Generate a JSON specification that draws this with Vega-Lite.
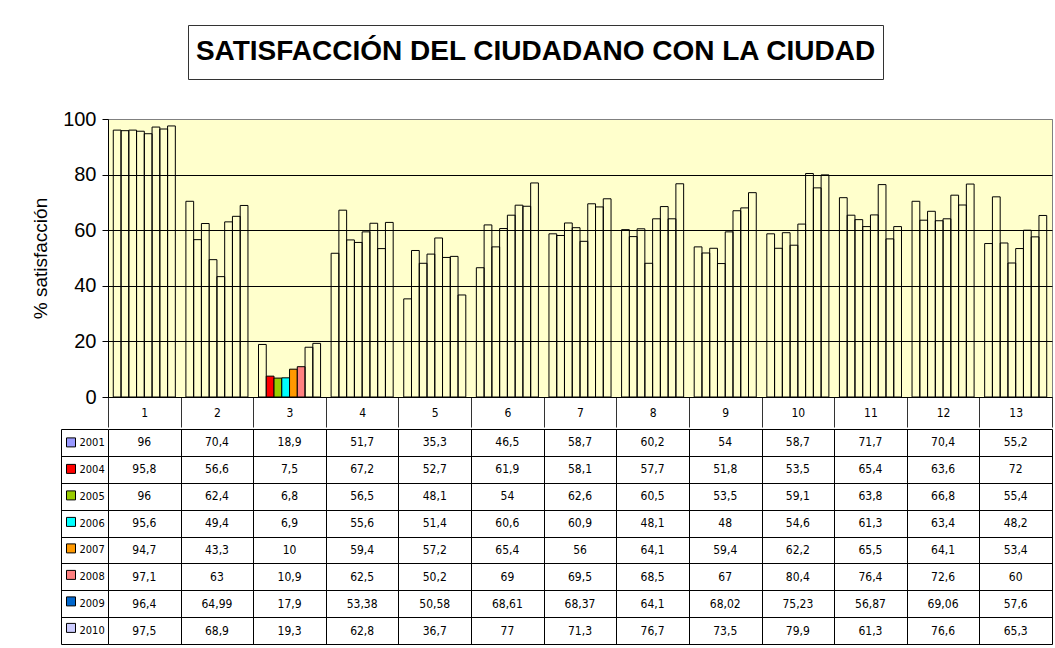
{
  "$schema": "https://vega.github.io/schema/vega-lite/v6.json",
  "padding": {"left": 31, "top": 24, "right": 0, "bottom": 4},
  "background": "#FFFFFF",
  "datasets": {
    "sat": [
      {"g": 1, "year": "2001", "v": 96}, {"g": 1, "year": "2004", "v": 95.8}, {"g": 1, "year": "2005", "v": 96}, {"g": 1, "year": "2006", "v": 95.6}, {"g": 1, "year": "2007", "v": 94.7}, {"g": 1, "year": "2008", "v": 97.1}, {"g": 1, "year": "2009", "v": 96.4}, {"g": 1, "year": "2010", "v": 97.5},
      {"g": 2, "year": "2001", "v": 70.4}, {"g": 2, "year": "2004", "v": 56.6}, {"g": 2, "year": "2005", "v": 62.4}, {"g": 2, "year": "2006", "v": 49.4}, {"g": 2, "year": "2007", "v": 43.3}, {"g": 2, "year": "2008", "v": 63}, {"g": 2, "year": "2009", "v": 64.99}, {"g": 2, "year": "2010", "v": 68.9},
      {"g": 3, "year": "2001", "v": 18.9}, {"g": 3, "year": "2004", "v": 7.5}, {"g": 3, "year": "2005", "v": 6.8}, {"g": 3, "year": "2006", "v": 6.9}, {"g": 3, "year": "2007", "v": 10}, {"g": 3, "year": "2008", "v": 10.9}, {"g": 3, "year": "2009", "v": 17.9}, {"g": 3, "year": "2010", "v": 19.3},
      {"g": 4, "year": "2001", "v": 51.7}, {"g": 4, "year": "2004", "v": 67.2}, {"g": 4, "year": "2005", "v": 56.5}, {"g": 4, "year": "2006", "v": 55.6}, {"g": 4, "year": "2007", "v": 59.4}, {"g": 4, "year": "2008", "v": 62.5}, {"g": 4, "year": "2009", "v": 53.38}, {"g": 4, "year": "2010", "v": 62.8},
      {"g": 5, "year": "2001", "v": 35.3}, {"g": 5, "year": "2004", "v": 52.7}, {"g": 5, "year": "2005", "v": 48.1}, {"g": 5, "year": "2006", "v": 51.4}, {"g": 5, "year": "2007", "v": 57.2}, {"g": 5, "year": "2008", "v": 50.2}, {"g": 5, "year": "2009", "v": 50.58}, {"g": 5, "year": "2010", "v": 36.7},
      {"g": 6, "year": "2001", "v": 46.5}, {"g": 6, "year": "2004", "v": 61.9}, {"g": 6, "year": "2005", "v": 54}, {"g": 6, "year": "2006", "v": 60.6}, {"g": 6, "year": "2007", "v": 65.4}, {"g": 6, "year": "2008", "v": 69}, {"g": 6, "year": "2009", "v": 68.61}, {"g": 6, "year": "2010", "v": 77},
      {"g": 7, "year": "2001", "v": 58.7}, {"g": 7, "year": "2004", "v": 58.1}, {"g": 7, "year": "2005", "v": 62.6}, {"g": 7, "year": "2006", "v": 60.9}, {"g": 7, "year": "2007", "v": 56}, {"g": 7, "year": "2008", "v": 69.5}, {"g": 7, "year": "2009", "v": 68.37}, {"g": 7, "year": "2010", "v": 71.3},
      {"g": 8, "year": "2001", "v": 60.2}, {"g": 8, "year": "2004", "v": 57.7}, {"g": 8, "year": "2005", "v": 60.5}, {"g": 8, "year": "2006", "v": 48.1}, {"g": 8, "year": "2007", "v": 64.1}, {"g": 8, "year": "2008", "v": 68.5}, {"g": 8, "year": "2009", "v": 64.1}, {"g": 8, "year": "2010", "v": 76.7},
      {"g": 9, "year": "2001", "v": 54}, {"g": 9, "year": "2004", "v": 51.8}, {"g": 9, "year": "2005", "v": 53.5}, {"g": 9, "year": "2006", "v": 48}, {"g": 9, "year": "2007", "v": 59.4}, {"g": 9, "year": "2008", "v": 67}, {"g": 9, "year": "2009", "v": 68.02}, {"g": 9, "year": "2010", "v": 73.5},
      {"g": 10, "year": "2001", "v": 58.7}, {"g": 10, "year": "2004", "v": 53.5}, {"g": 10, "year": "2005", "v": 59.1}, {"g": 10, "year": "2006", "v": 54.6}, {"g": 10, "year": "2007", "v": 62.2}, {"g": 10, "year": "2008", "v": 80.4}, {"g": 10, "year": "2009", "v": 75.23}, {"g": 10, "year": "2010", "v": 79.9},
      {"g": 11, "year": "2001", "v": 71.7}, {"g": 11, "year": "2004", "v": 65.4}, {"g": 11, "year": "2005", "v": 63.8}, {"g": 11, "year": "2006", "v": 61.3}, {"g": 11, "year": "2007", "v": 65.5}, {"g": 11, "year": "2008", "v": 76.4}, {"g": 11, "year": "2009", "v": 56.87}, {"g": 11, "year": "2010", "v": 61.3},
      {"g": 12, "year": "2001", "v": 70.4}, {"g": 12, "year": "2004", "v": 63.6}, {"g": 12, "year": "2005", "v": 66.8}, {"g": 12, "year": "2006", "v": 63.4}, {"g": 12, "year": "2007", "v": 64.1}, {"g": 12, "year": "2008", "v": 72.6}, {"g": 12, "year": "2009", "v": 69.06}, {"g": 12, "year": "2010", "v": 76.6},
      {"g": 13, "year": "2001", "v": 55.2}, {"g": 13, "year": "2004", "v": 72}, {"g": 13, "year": "2005", "v": 55.4}, {"g": 13, "year": "2006", "v": 48.2}, {"g": 13, "year": "2007", "v": 53.4}, {"g": 13, "year": "2008", "v": 60}, {"g": 13, "year": "2009", "v": 57.6}, {"g": 13, "year": "2010", "v": 65.3}
    ],
    "titulo": [{"t": "SATISFACCIÓN DEL CIUDADANO CON LA CIUDAD"}],
    "vacio": [{"t": ""}]
  },
  "vconcat": [
    {
      "hconcat": [
        {
          "width": 79, "height": 54,
          "data": {"name": "vacio"},
          "mark": {"type": "text"},
          "encoding": {"text": {"field": "t"}}
        },
        {
          "width": 695, "height": 54,
          "view": {"stroke": "#333333", "strokeWidth": 1},
          "data": {"name": "titulo"},
          "mark": {"type": "text", "font": "Liberation Sans", "fontWeight": "bold", "fontSize": 28, "color": "#000000"},
          "encoding": {"text": {"field": "t"}}
        }
      ],
      "spacing": 0
    },
    {
      "vconcat": [
        {
          "width": 944, "height": 278,
          "data": {"name": "sat"},
          "view": {"fill": "#FFFFCC", "stroke": "#808080"},
          "mark": {"type": "bar", "stroke": "#000000", "strokeWidth": 1},
          "encoding": {
            "x": {
              "field": "g", "type": "ordinal",
              "scale": {"paddingInner": 0, "paddingOuter": 0},
              "axis": {"title": null, "labelAngle": 0, "tickBand": "extent", "tickSize": 30, "tickColor": "#333333", "domainColor": "#000000", "labelFont": "Liberation Sans Narrow, DejaVu Sans Condensed, sans-serif", "labelFontSize": 12, "labelColor": "#000000", "labelBaseline": "middle", "labelPadding": -15, "grid": false}
            },
            "xOffset": {"field": "year", "type": "nominal", "scale": {"paddingInner": 0, "paddingOuter": 0.68}},
            "y": {
              "field": "v", "type": "quantitative",
              "scale": {"domain": [0, 100], "nice": false},
              "axis": {"title": "% satisfacción", "values": [0, 20, 40, 60, 80, 100], "grid": true, "gridColor": {"condition": {"test": "datum.value == 100", "value": "#808080"}, "value": "#000000"}, "gridOpacity": 1, "tickSize": 6, "tickColor": "#000000", "domainColor": "#000000", "labelFont": "Liberation Sans", "labelFontSize": 20, "labelColor": "#000000", "labelPadding": 6, "titleFont": "Liberation Sans", "titleFontSize": 19, "titleFontWeight": "normal", "titleColor": "#000000", "titlePadding": 12}
            },
            "fill": {
              "condition": {"test": "datum.g == 3 && datum.year != '2001' && datum.year != '2009' && datum.year != '2010'", "field": "year", "type": "nominal", "scale": {"domain": ["2001", "2004", "2005", "2006", "2007", "2008", "2009", "2010"], "range": ["#9999FF", "#FF0000", "#99CC00", "#00FFFF", "#FF9900", "#FF8080", "#0066CC", "#CCCCFF"]}, "legend": null},
              "value": "transparent"
            }
          }
        },
        {
          "width": 944, "height": 215,
          "data": {"name": "sat"},
          "mark": {"type": "text", "font": "Liberation Sans Narrow, DejaVu Sans Condensed, sans-serif", "fontSize": 12},
          "encoding": {
            "x": {"field": "g", "type": "ordinal", "scale": {"paddingInner": 0, "paddingOuter": 0}, "axis": {"title": null, "labels": false, "ticks": false, "domain": false, "grid": true, "tickBand": "extent", "gridColor": "#000000", "gridOpacity": 1}},
            "y": {"field": "year", "type": "ordinal", "scale": {"paddingInner": 0, "paddingOuter": 0}, "axis": {"orient": "left", "offset": 47, "title": null, "grid": true, "tickBand": "extent", "gridColor": "#000000", "gridOpacity": 1, "ticks": true, "tickSize": -47, "tickColor": "#000000", "domain": true, "domainColor": "#000000", "labelAlign": "left", "labelPadding": 29, "labelFont": "Liberation Sans Narrow, DejaVu Sans Condensed, sans-serif", "labelFontSize": 11, "labelColor": "#000000"}},
            "text": {"field": "v", "type": "quantitative", "format": ".4~g"},
            "fill": {
              "condition": {"test": "false", "field": "year", "type": "nominal", "scale": {"domain": ["2001", "2004", "2005", "2006", "2007", "2008", "2009", "2010"], "range": ["#9999FF", "#FF0000", "#99CC00", "#00FFFF", "#FF9900", "#FF8080", "#0066CC", "#CCCCFF"]}, "legend": {"orient": "none", "legendX": -42, "legendY": 8.4, "title": null, "direction": "vertical", "symbolType": "square", "symbolSize": 81, "symbolStrokeColor": "#000000", "symbolStrokeWidth": 1, "symbolOpacity": 1, "labelExpr": "''", "labelFontSize": 1, "rowPadding": 12.5, "padding": 0, "symbolOffset": 0, "labelOffset": 0}},
              "value": "#000000"
            }
          }
        }
      ],
      "spacing": -5,
      "resolve": {"scale": {"fill": "independent"}, "legend": {"fill": "independent"}}
    }
  ],
  "spacing": 28,
  "resolve": {"scale": {"fill": "independent"}, "legend": {"fill": "independent"}},
  "config": {
    "view": {"stroke": null},
    "font": "Liberation Sans",
    "locale": {"number": {"decimal": ",", "thousands": ".", "grouping": [3], "currency": ["", " €"]}}
  }
}
